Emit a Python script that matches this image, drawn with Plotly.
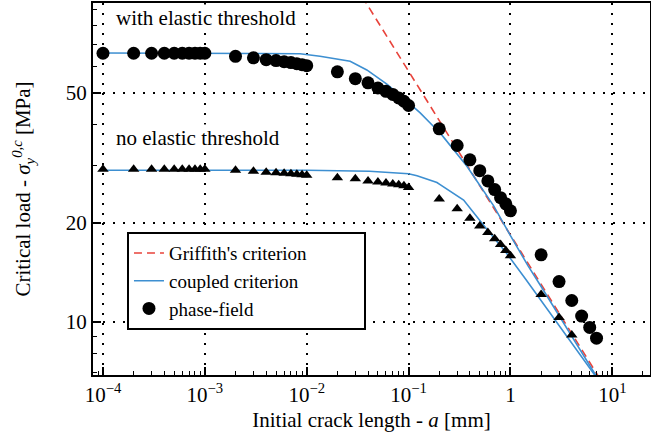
import plotly.graph_objects as go

# ---------------- data ----------------
a_pf = [1e-4, 2e-4, 3e-4, 4e-4, 5e-4, 6e-4, 7e-4, 8e-4, 9e-4,
        1e-3, 2e-3, 3e-3, 4e-3, 5e-3, 6e-3, 7e-3, 8e-3, 9e-3,
        1e-2, 2e-2, 3e-2, 4e-2, 5e-2, 6e-2, 7e-2, 8e-2, 9e-2,
        0.1, 0.2, 0.3, 0.4, 0.5, 0.6, 0.7, 0.8, 0.9,
        1.0, 2.0, 3.0, 4.0, 5.0, 6.0, 7.0]
sig_pf_elastic = [66.0, 66.0, 66.0, 66.0, 66.0, 66.0, 66.0, 66.0, 66.0,
                  66.0, 64.6, 63.9, 63.1, 62.7, 62.2, 61.8, 61.3, 60.9,
                  60.5, 57.9, 55.2, 53.6, 51.7, 50.5, 49.4, 48.2, 47.1,
                  45.7, 38.8, 34.5, 31.2, 28.9, 26.9, 25.3, 23.9, 22.9,
                  21.8, 16.0, 13.25, 11.6, 10.4, 9.6, 8.9]

a_pf_noel = [1e-4, 2e-4, 3e-4, 4e-4, 5e-4, 6e-4, 7e-4, 8e-4, 9e-4,
             1e-3, 2e-3, 3e-3, 4e-3, 5e-3, 6e-3, 7e-3, 8e-3, 9e-3,
             1e-2, 2e-2, 3e-2, 4e-2, 5e-2, 6e-2, 7e-2, 8e-2, 9e-2,
             0.1, 0.2, 0.3, 0.4, 0.5, 0.6, 0.7, 0.8, 0.9,
             1.0, 2.0, 3.0, 4.0]
sig_pf_noel = [29.2, 29.2, 29.2, 29.2, 29.2, 29.2, 29.2, 29.2, 29.2,
               29.2, 29.0, 28.8, 28.6, 28.5, 28.4, 28.3, 28.2, 28.1,
               28.0, 27.5, 27.3, 26.9, 26.7, 26.5, 26.3, 26.2, 26.0,
               25.7, 23.7, 22.1, 20.7, 19.6, 18.7, 17.9, 17.2, 16.5,
               15.9, 12.1, 10.3, 9.1]

a_cc_elastic = [1e-4, 1e-3, 0.0086, 0.0135, 0.0267, 0.0389, 0.0612, 0.0962,
                0.130, 0.175, 0.204, 0.374, 0.682, 1.0, 1.49, 2.0, 4.0, 7.0]
sig_cc_elastic = [66.1, 66.1, 65.8, 64.6, 62.4, 58.7, 53.1, 47.1,
                  43.4, 39.5, 37.7, 29.8, 22.6, 18.3, 14.8, 12.8, 9.0, 6.8]

a_cc_noel = [1e-4, 1e-2, 0.0413, 0.1, 0.121, 0.19, 0.204, 0.347,
             0.589, 0.912, 1.43, 2.0, 4.0, 7.0]
sig_cc_noel = [29.0, 29.0, 28.8, 28.3, 27.9, 26.6, 26.2, 23.5,
               19.1, 16.2, 13.4, 11.6, 8.6, 6.75]

a_griffith = [0.03, 8.0]
sig_griffith = [106.2, 6.5]

x_tickvals = [1e-4, 1e-3, 1e-2, 1e-1, 1, 10]
x_ticktext = ["10<sup>−4</sup>", "10<sup>−3</sup>", "10<sup>−2</sup>",
              "10<sup>−1</sup>", "1", "10<sup>1</sup>"]
y_tickvals = [10, 20, 50]
y_ticktext = ["10", "20", "50"]

RED = "#e8433b"
BLUE = "#3d8fd1"
FONT = "Liberation Serif"
FS = 21
PAD = "\u00a0" * 11

fig = go.Figure()

fig.add_trace(go.Scatter(x=a_griffith, y=sig_griffith, mode="lines",
                         line=dict(color=RED, width=1.6, dash="8px,5px"),
                         name="Griffith's criterion" + PAD))
fig.add_trace(go.Scatter(x=a_cc_elastic, y=sig_cc_elastic, mode="lines",
                         line=dict(color=BLUE, width=1.6),
                         name="coupled criterion"))
fig.add_trace(go.Scatter(x=a_cc_noel, y=sig_cc_noel, mode="lines",
                         line=dict(color=BLUE, width=1.6),
                         showlegend=False))
fig.add_trace(go.Scatter(x=a_pf, y=sig_pf_elastic, mode="markers",
                         marker=dict(color="black", size=13, symbol="circle"),
                         name="phase-field"))
fig.add_trace(go.Scatter(x=a_pf_noel, y=sig_pf_noel, mode="markers",
                         marker=dict(color="black", size=10, symbol="triangle-up"),
                         showlegend=False))

axis_common = dict(
    automargin=False,
    showline=True, linecolor="black", linewidth=2, mirror=True,
    showgrid=True, gridcolor="black", gridwidth=1.5, griddash="1.5px,8.5px",
    ticks="inside", ticklen=8, tickwidth=1.5, tickcolor="black",
    tickfont=dict(family=FONT, size=FS, color="black"),
    zeroline=False,
    minor=dict(ticks="inside", ticklen=4, tickwidth=1.2, tickcolor="black",
               dtick="D1", showgrid=False),
)

fig.update_xaxes(type="log", range=[-4.098, 1.37],
                 tickmode="array", tickvals=x_tickvals, ticktext=x_ticktext,
                 title=dict(text="Initial crack length - <i>a</i> [mm]",
                            font=dict(family=FONT, size=FS, color="black"),
                            standoff=6),
                 **axis_common)
fig.update_yaxes(type="log", range=[0.837, 1.973],
                 tickmode="array", tickvals=y_tickvals, ticktext=y_ticktext,
                 title=dict(text="Critical load - <i>σ</i><sub><i>y</i></sub><sup><i>0,c</i></sup> [MPa]",
                            font=dict(family=FONT, size=FS, color="black"),
                            standoff=29),
                 **axis_common)

fig.add_annotation(text="with elastic threshold", xref="paper", yref="paper",
                   x=0.038, y=0.96, xanchor="left", yanchor="middle",
                   showarrow=False, bgcolor="white",
                   font=dict(family=FONT, size=FS, color="black"))
fig.add_annotation(text="no elastic threshold", xref="paper", yref="paper",
                   x=0.038, y=0.638, xanchor="left", yanchor="middle",
                   showarrow=False, bgcolor="white",
                   font=dict(family=FONT, size=FS, color="black"))

fig.update_layout(
    width=651, height=436,
    margin=dict(l=93, r=1, t=3, b=61, autoexpand=False),
    paper_bgcolor="white", plot_bgcolor="white",
    font=dict(family=FONT, size=FS, color="black"),
    showlegend=True,
    legend=dict(x=0.061, y=0.384, xanchor="left", yanchor="top",
                bgcolor="white", bordercolor="black", borderwidth=2,
                font=dict(family=FONT, size=19, color="black"),
                itemwidth=30, tracegroupgap=0),
)

fig.write_html("out.html",
               config={"displayModeBar": False},
               post_script="document.body.style.margin='0';"
                           "document.body.style.overflow='hidden';")
